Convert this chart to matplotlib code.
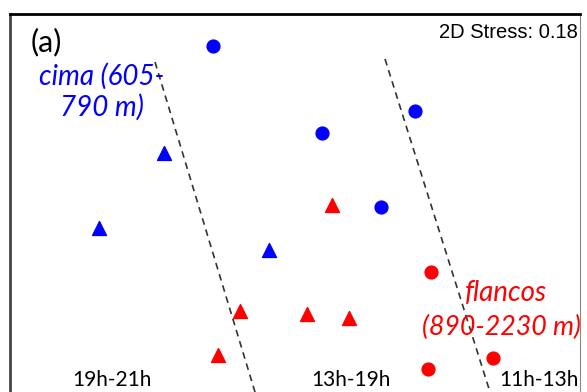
import matplotlib.pyplot as plt

# NMDS scores (arbitrary units, axes 0..570 x 0..378)
blue_circ_x = [203, 312, 405, 371]
blue_circ_y = [346, 259, 281, 185]
blue_tri_x = [154, 89, 259]
blue_tri_y = [239, 164, 142]
red_tri_x = [322, 230, 297, 339, 208]
red_tri_y = [187, 81, 78, 74, 37]
red_circ_x = [421, 483, 418]
red_circ_y = [120, 34, 23]

# dashed separators (end points)
sep1_x = [145, 245]
sep1_y = [330, 0]
sep2_x = [375, 480]
sep2_y = [333, 0]

fig = plt.figure(figsize=(5.87, 3.92), dpi=100)
ax = fig.add_axes([10 / 587, 0, 570 / 587, 378 / 392])
ax.set_xlim(0, 570)
ax.set_ylim(0, 378)
ax.set_xticks([])
ax.set_yticks([])
ax.spines['bottom'].set_visible(False)
ax.spines['top'].set_linewidth(2)
ax.spines['left'].set_linewidth(2)
ax.spines['left'].set_color('#444444')
ax.spines['right'].set_color('#888888')

ax.plot(sep1_x, sep1_y, '--', color='#333333', lw=1.2, dashes=(4, 3))
ax.plot(sep2_x, sep2_y, '--', color='#333333', lw=1.2, dashes=(4, 3))

ax.scatter(blue_circ_x, blue_circ_y, s=85, marker='o', color='#0000ff', zorder=3)
ax.scatter(blue_tri_x, blue_tri_y, s=100, marker='^', color='#0000ff', zorder=3)
ax.scatter(red_tri_x, red_tri_y, s=100, marker='^', color='#ff0000', zorder=3)
ax.scatter(red_circ_x, red_circ_y, s=85, marker='o', color='#ff0000', zorder=3)

ax.text(21, 350, '(a)', fontsize=22, family='Lato', va='center', ha='left')
ax.text(568, 360, '2D Stress: 0.18', fontsize=14.5, family='Liberation Sans',
        va='center', ha='right')
ax.text(92, 316, 'cima (605-', fontsize=20, family='Lato', style='italic',
        color='#0000ff', va='center', ha='center')
ax.text(92, 285, '790 m)', fontsize=20, family='Lato', style='italic',
        color='#0000ff', va='center', ha='center')
ax.text(455, 99, 'flancos', fontsize=20, family='Lato', style='italic',
        color='#ff0000', va='center', ha='left')
ax.text(412, 65, '(890-2230 m)', fontsize=19.3, family='Lato', style='italic',
        color='#ff0000', va='center', ha='left', clip_on=False)

for x, lab in [(102, '19h-21h'), (341, '13h-19h'), (529, '11h-13h')]:
    ax.text(x, 12, lab, fontsize=15, family='Lato', va='center', ha='center')

fig.savefig('out.png', dpi=100)
